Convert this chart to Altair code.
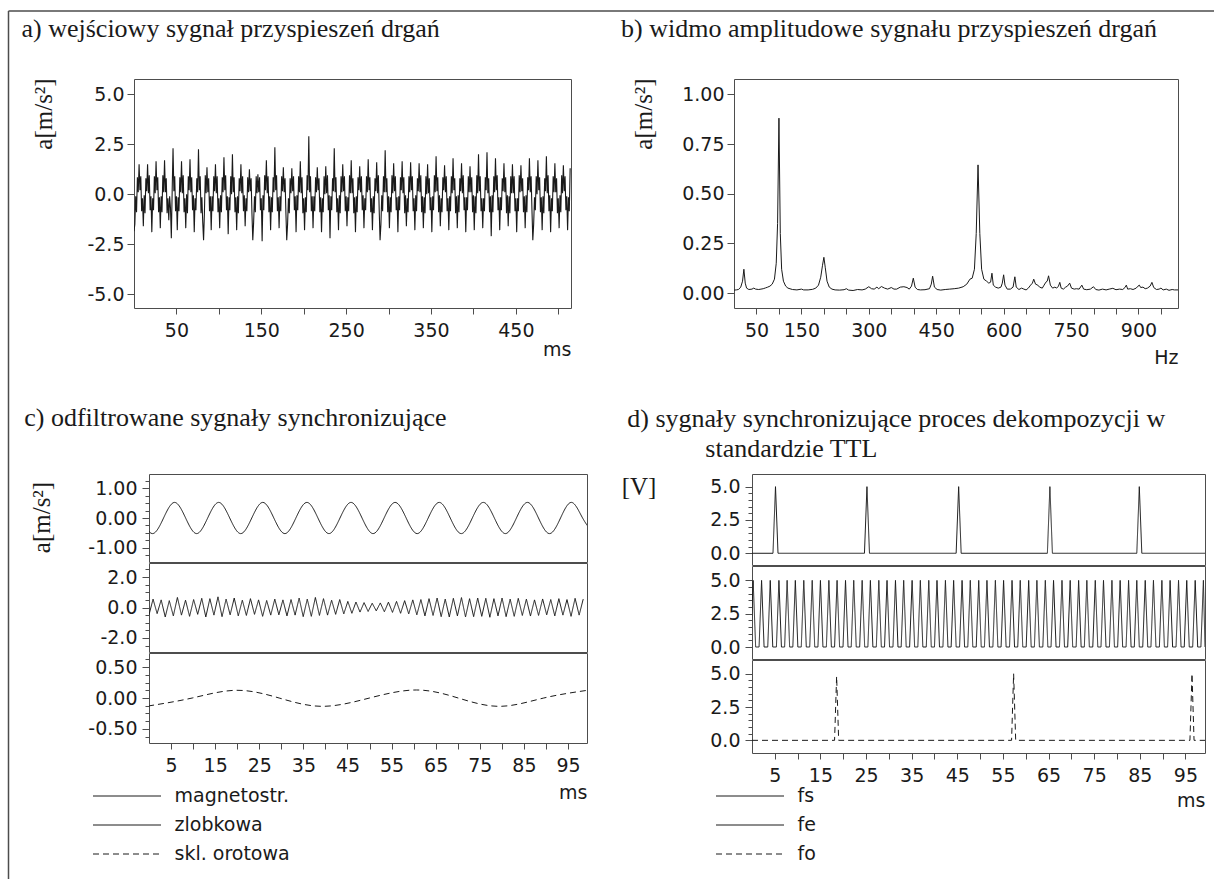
import altair as alt
import pandas as pd

INK = "#1a1a1a"
FRAME = "#4d4d4d"
SERIF = "Liberation Serif"
SANS = "DejaVu Sans"

# ---------------- data ----------------
# a) input vibration acceleration signal, one value per 1 ms (one row = one 10 ms cycle)
a_step_ms = 1
a_values = [
    -1.85, -1.5, -0.1, -0.9, 0.85, 0.1, 1.5, 0.2, 0.9, -0.85,
    -0.2, -1.6, -0.05, -0.95, 0.8, 0.15, 1.5, 0.05, 0.95, -0.8,
    -0.1, -1.9, -0.2, -0.8, 0.9, 0.05, 1.65, 0.2, 0.85, -0.9,
    -0.15, -1.7, -0.1, -0.9, 0.95, 0.1, 1.7, 0.1, 0.8, -0.95,
    -0.2, -1.3, -0.1, -0.7, -2.2, 0.2, 2.3, 0.15, 0.9, -0.85,
    -0.1, -1.8, -0.15, -0.85, 0.85, 0.1, 1.65, 0.05, 0.95, -0.9,
    -0.2, -1.7, 0.0, -0.95, 0.9, 0.2, 1.75, 0.1, 0.85, -0.8,
    -0.05, -1.9, -0.2, -0.8, 0.8, 0.1, 2.25, 0.2, 0.9, -0.95,
    -0.15, -1.4, -2.3, -0.9, 0.95, 0.05, 1.35, 0.1, 0.8, -0.85,
    -0.1, -1.8, -0.1, -0.85, 0.9, 0.15, 1.5, 0.05, 0.9, -0.9,
    -0.2, -1.7, -0.05, -0.9, 0.85, 0.1, 1.85, 0.2, 0.95, -0.8,
    -0.1, -2.0, -0.15, -0.8, 0.9, 0.0, 2.0, 0.1, 0.85, -0.9,
    -0.15, -1.8, -0.1, -0.95, 0.8, 0.15, 1.5, 0.05, 0.9, -0.85,
    -0.05, -1.6, -0.2, -0.85, 0.85, 0.1, 1.25, 0.15, 0.8, -0.95,
    -2.3, -1.4, -0.1, -0.9, 0.9, 0.05, 1.0, 0.1, 0.85, -0.8,
    -0.2, -2.35, -0.05, -0.8, 0.95, 0.2, 1.7, 0.05, 0.9, -0.9,
    -0.1, -1.8, -0.15, -0.9, 0.85, 0.1, 2.35, 0.2, 0.95, -0.85,
    -0.15, -1.7, -0.1, -0.85, 0.9, 0.15, 1.35, 0.1, 0.8, -0.9,
    -2.3, -1.5, -0.2, -0.95, 0.8, 0.05, 1.3, 0.15, 0.9, -0.8,
    -0.1, -1.9, -0.05, -0.8, 0.9, 0.1, 1.65, 0.05, 0.85, -0.95,
    -0.2, -1.8, -0.15, -0.9, 0.95, 0.2, 2.9, 0.1, 0.9, -0.85,
    -0.1, -1.7, -0.1, -0.85, 0.85, 0.1, 1.35, 0.2, 0.8, -0.9,
    -0.15, -1.9, -0.2, -0.9, 0.9, 0.0, 1.4, 0.05, 0.95, -0.8,
    -0.05, -2.2, -0.1, -0.8, 0.8, 0.15, 2.3, 0.1, 0.85, -0.9,
    -0.2, -1.8, -0.05, -0.95, 0.9, 0.1, 1.5, 0.15, 0.9, -0.85,
    -0.1, -1.6, -0.15, -0.85, 0.95, 0.05, 1.7, 0.05, 0.8, -0.95,
    -0.15, -1.9, -0.1, -0.9, 0.85, 0.2, 1.4, 0.1, 0.9, -0.8,
    -0.05, -1.7, -0.2, -0.8, 0.9, 0.1, 1.75, 0.2, 0.85, -0.9,
    -0.2, -1.8, -0.1, -0.95, 0.8, 0.15, 1.6, 0.05, 0.95, -0.85,
    -2.3, -1.5, -0.05, -0.85, 0.9, 0.1, 2.2, 0.1, 0.8, -0.9,
    -0.1, -1.7, -0.15, -0.9, 0.95, 0.05, 1.55, 0.15, 0.9, -0.8,
    -0.15, -1.9, -0.1, -0.8, 0.85, 0.2, 1.65, 0.05, 0.85, -0.95,
    -0.05, -1.6, -0.2, -0.9, 0.9, 0.1, 1.6, 0.2, 0.9, -0.85,
    -0.2, -1.8, -0.05, -0.85, 0.8, 0.15, 1.55, 0.1, 0.95, -0.9,
    -0.1, -1.7, -0.15, -0.95, 0.9, 0.0, 1.5, 0.05, 0.8, -0.8,
    -0.15, -1.9, -0.1, -0.8, 0.95, 0.1, 1.9, 0.15, 0.85, -0.9,
    -0.05, -1.6, -0.2, -0.9, 0.85, 0.2, 1.45, 0.1, 0.9, -0.85,
    -0.2, -1.8, -0.1, -0.85, 0.9, 0.05, 1.8, 0.2, 0.8, -0.95,
    -0.1, -1.7, -0.05, -0.9, 0.8, 0.15, 1.55, 0.05, 0.95, -0.8,
    -0.15, -1.9, -0.15, -0.8, 0.9, 0.1, 1.4, 0.1, 0.85, -0.9,
    -0.05, -1.8, -0.1, -0.95, 0.95, 0.05, 2.0, 0.15, 0.9, -0.85,
    -0.2, -1.7, -0.2, -0.85, 0.85, 0.2, 2.1, 0.05, 0.8, -0.9,
    -0.1, -2.1, -0.05, -0.9, 0.9, 0.1, 1.8, 0.2, 0.95, -0.8,
    -0.15, -1.8, -0.15, -0.8, 0.8, 0.15, 1.55, 0.1, 0.85, -0.95,
    -0.05, -1.6, -0.1, -0.95, 0.9, 0.05, 1.5, 0.05, 0.9, -0.85,
    -0.2, -1.9, -0.2, -0.85, 0.95, 0.1, 1.45, 0.15, 0.8, -0.9,
    -0.1, -1.7, -0.05, -0.9, 0.85, 0.2, 1.8, 0.1, 0.9, -0.8,
    -2.3, -1.5, -0.15, -0.8, 0.9, 0.0, 1.7, 0.2, 0.85, -0.9,
    -0.15, -1.8, -0.1, -0.95, 0.8, 0.15, 1.9, 0.05, 0.95, -0.85,
    -0.05, -1.9, -0.2, -0.85, 0.9, 0.1, 1.55, 0.1, 0.8, -0.95,
    -0.2, -1.7, -0.05, -0.9, 0.95, 0.05, 1.45, 0.15, 0.9, -0.8,
    -0.1, -1.8, -0.15, -0.85, 1.3,
]

# b) amplitude spectrum
spec_hz = [
    0, 5, 10, 15, 19, 22, 25, 28, 33, 40, 44, 48, 55, 60, 65, 70, 75, 80, 85, 90,
    94, 97, 100, 103, 106, 110, 115, 120, 130, 140, 150, 155, 165, 175, 182, 188, 193, 197, 200, 203,
    207, 212, 218, 225, 235, 245, 250, 255, 265, 275, 285, 292, 300, 306, 312, 318, 322, 328, 335, 342,
    350, 356, 362, 370, 378, 385, 390, 395, 399, 403, 408, 415, 425, 435, 439, 442, 446, 452, 460, 470,
    480, 490, 500, 510, 518, 525, 530, 535, 539, 543, 547, 551, 556, 562, 567, 571, 574, 577, 582, 588,
    594, 597, 600, 603, 608, 615, 621, 625, 628, 634, 640, 645, 650, 655, 660, 664, 667, 671, 676, 680,
    686, 690, 694, 697, 700, 704, 709, 714, 718, 722, 725, 728, 733, 738, 742, 747, 751, 757, 762, 768,
    774, 778, 785, 793, 800, 805, 812, 820, 828, 835, 843, 850, 858, 865, 870, 873, 876, 882, 888, 895,
    899, 902, 905, 910, 915, 920, 926, 930, 934, 940, 946, 950, 955, 962, 968, 975, 980, 988,
]
spec_amp = [
    0.015, 0.016, 0.018, 0.03, 0.06, 0.12, 0.05, 0.025, 0.018, 0.02, 0.025, 0.02, 0.018, 0.02, 0.022, 0.026, 0.03, 0.035, 0.045, 0.07,
    0.15, 0.35, 0.88, 0.3, 0.12, 0.06, 0.035, 0.025, 0.018, 0.016, 0.02, 0.016, 0.016, 0.019, 0.025, 0.04, 0.08, 0.14, 0.18, 0.13,
    0.06, 0.03, 0.02, 0.016, 0.015, 0.017, 0.022, 0.015, 0.013, 0.018, 0.016, 0.02, 0.032, 0.022, 0.02, 0.03, 0.022, 0.033, 0.025, 0.02,
    0.028, 0.02, 0.02, 0.03, 0.032, 0.028, 0.02, 0.035, 0.075, 0.03, 0.018, 0.016, 0.017, 0.022, 0.045, 0.085, 0.03, 0.018, 0.015, 0.018,
    0.02, 0.022, 0.025, 0.032, 0.045, 0.07, 0.075, 0.12, 0.3, 0.645, 0.3, 0.12, 0.07, 0.06, 0.05, 0.055, 0.1, 0.04, 0.03, 0.025,
    0.03, 0.05, 0.092, 0.04, 0.02, 0.02, 0.03, 0.082, 0.03, 0.018, 0.025, 0.02, 0.016, 0.025, 0.04, 0.05, 0.07, 0.045, 0.04, 0.03,
    0.025, 0.04, 0.055, 0.06, 0.087, 0.04, 0.025, 0.03, 0.025, 0.035, 0.054, 0.025, 0.02, 0.03, 0.035, 0.05, 0.025, 0.02, 0.022, 0.02,
    0.04, 0.02, 0.017, 0.02, 0.032, 0.018, 0.015, 0.02, 0.016, 0.02, 0.024, 0.017, 0.02, 0.018, 0.028, 0.04, 0.02, 0.022, 0.018, 0.025,
    0.035, 0.04, 0.028, 0.03, 0.022, 0.025, 0.035, 0.054, 0.028, 0.018, 0.02, 0.025, 0.016, 0.02, 0.014, 0.018, 0.016, 0.016,
]

# c) filtered synchronising signals
mag_start_ms, mag_step_ms = -1.7, 2.5          # quarter-period sample points
mag_v = [
    0.0, -0.52, 0.0, 0.52, 0.0, -0.52, 0.0, 0.52, 0.0, -0.52, 0.0, 0.52, 0.0, -0.52,
    0.0, 0.52, 0.0, -0.52, 0.0, 0.52, 0.0, -0.52, 0.0, 0.52, 0.0, -0.52, 0.0, 0.52,
    0.0, -0.52, 0.0, 0.52, 0.0, -0.52, 0.0, 0.52, 0.0, -0.52, 0.0, 0.52, 0.0, -0.52,
]
zl_step_ms = 0.92                               # half-period extrema of slot harmonic
zl_v = [
    -0.48, 0.55, -0.40, 0.50, -0.62, 0.45, -0.55, 0.66, -0.50, 0.48,
    -0.58, 0.52, -0.45, 0.60, -0.62, 0.58, -0.50, 0.70, -0.60, 0.55,
    -0.48, 0.62, -0.55, 0.48, -0.52, 0.58, -0.45, 0.50, -0.58, 0.46,
    -0.50, 0.55, -0.48, 0.50, -0.55, 0.52, -0.50, 0.62, -0.60, 0.55,
    -0.58, 0.66, -0.52, 0.58, -0.50, 0.48, -0.45, 0.52, -0.42, 0.40,
    -0.38, 0.36, -0.30, 0.32, -0.26, 0.28, -0.22, 0.30, -0.28, 0.35,
    -0.32, 0.40, -0.38, 0.45, -0.42, 0.50, -0.48, 0.52, -0.55, 0.58,
    -0.52, 0.62, -0.60, 0.55, -0.62, 0.60, -0.55, 0.65, -0.62, 0.58,
    -0.60, 0.62, -0.58, 0.60, -0.64, 0.58, -0.55, 0.62, -0.60, 0.55,
    -0.58, 0.60, -0.52, 0.55, -0.56, 0.50, -0.52, 0.56, -0.48, 0.52,
    -0.55, 0.58, -0.50, 0.52, -0.58, 0.60, -0.50, 0.55,
]
orot_t = [-0.2, 9.8, 19.8, 29.5, 39.3, 50.0, 60.6, 70.1, 79.6, 89.5, 99.4]
orot_v = [-0.13, 0.0, 0.125, 0.0, -0.135, 0.0, 0.13, 0.0, -0.135, 0.0, 0.125]

# d) TTL synchronising pulses (peak times in ms, levels in V)
fs_peaks = [5.15, 25.2, 45.3, 65.3, 84.9]
fs_levels = [5.0, 5.0, 5.0, 5.0, 5.0]
fe_peaks = [
    0.25, 2.1, 4.0, 5.9, 7.7, 9.5, 11.35, 13.2, 15.0, 16.85, 18.65, 20.5, 22.3, 24.15,
    25.95, 27.8, 29.6, 31.45, 33.25, 35.1, 36.9, 38.75, 40.55, 42.4, 44.2, 46.05, 47.85,
    49.7, 51.5, 53.35, 55.15, 57.0, 58.8, 60.65, 62.45, 64.3, 66.1, 67.95, 69.75, 71.6,
    73.4, 75.25, 77.05, 78.9, 80.7, 82.55, 84.35, 86.2, 88.0, 89.85, 91.65, 93.5, 95.3,
    97.15, 98.95,
]
fe_level = 5.0
fo_peaks = [18.55, 57.35, 96.45]
fo_levels = [4.8, 5.0, 5.0]
pulse_half_ms = {"fs": 0.55, "fe": 0.55, "fo": 0.45}

T_END = 99.3
# legend is filled column by column: panel c entries first, then panel d entries
SERIES = ["magnetostr.", "zlobkowa", "skl. orotowa", "fs", "fe", "fo"]
DASHES = [[1, 0], [1, 0], [6, 4], [1, 0], [1, 0], [6, 4]]

# ---------------- tables ----------------
df_a = pd.DataFrame({"t": [i * a_step_ms for i in range(len(a_values))], "v": a_values})
df_b = pd.DataFrame({"t": spec_hz, "v": spec_amp})
df_mag = pd.DataFrame({"t": [mag_start_ms + i * mag_step_ms for i in range(len(mag_v))],
                       "v": mag_v, "series": "magnetostr."})
zl_t = [i * zl_step_ms for i in range(len(zl_v))]
df_zl = pd.DataFrame({"t": zl_t, "v": zl_v, "series": "zlobkowa"})
df_or = pd.DataFrame({"t": orot_t, "v": orot_v, "series": "skl. orotowa"})


def pulses(peaks, levels, half, name):
    t, v = [], []
    if peaks[0] - half > 0:
        t.append(0.0)
        v.append(0.0)
    for p, h in zip(peaks, levels):
        t += [p - half, p, p + half]
        v += [0.0, h, 0.0]
    t.append(T_END)
    v.append(0.0)
    return pd.DataFrame({"t": t, "v": v, "series": name})


df_fs = pulses(fs_peaks, fs_levels, pulse_half_ms["fs"], "fs")
df_fe = pulses(fe_peaks, [fe_level] * len(fe_peaks), pulse_half_ms["fe"], "fe")
df_fo = pulses(fo_peaks, fo_levels, pulse_half_ms["fo"], "fo")

# ---------------- guides ----------------
LEG = alt.Legend(orient="none", legendX=-41.5, legendY=702.5, columns=2, columnPadding=425,
                 rowPadding=0, symbolType="stroke", symbolSize=4624, symbolStrokeWidth=1,
                 symbolStrokeColor=INK, clipHeight=29, labelFont=SANS, labelFontSize=19,
                 labelColor=INK, labelOffset=13, labelBaseline="middle", title=None, padding=0)
DASH = alt.Scale(domain=SERIES, range=DASHES)

TICK_X = [5, 10, 15, 20, 25, 30, 35, 40, 45, 50, 55, 60, 65, 70, 75, 80, 85, 90, 95]


def x_ms_axis(width, title_y):
    return alt.Axis(values=TICK_X, labelExpr="datum.value % 10 == 5 ? datum.label : ''",
                    tickSize=6, labelPadding=7, labelOverlap=False, labelFlush=False,
                    title="ms", titleFont=SANS, titleFontSize=19, titleFontWeight="normal",
                    titleX=width, titleY=title_y, titleAlign="right", titleBaseline="alphabetic")


def y_minor_axis(ticks, step, fmt, **kw):
    major = f"abs(datum.value / {step} - round(datum.value / {step})) < 0.000001"
    return alt.Axis(values=ticks, format=fmt, labelExpr=f"{major} ? datum.label : ''",
                    tickSize={"condition": {"test": major, "value": 7}, "value": 4},
                    labelOverlap=False, labelPadding=5, **kw)


def sub(df, width, height, ydom, yaxis, xaxis, interp="linear"):
    return alt.Chart(df).mark_line(strokeWidth=1, color=INK, clip=True, interpolate=interp).encode(
        x=alt.X("t:Q", scale=alt.Scale(domain=[0, T_END], nice=False, zero=False), axis=xaxis),
        y=alt.Y("v:Q", scale=alt.Scale(domain=ydom, nice=False, zero=False), axis=yaxis),
        strokeDash=alt.StrokeDash("series:N", scale=DASH, legend=LEG),
    ).properties(width=width, height=height)


# ---------------- panel a ----------------
a = alt.Chart(df_a).mark_line(strokeWidth=1.1, color=INK, clip=True).encode(
    x=alt.X("t:Q", scale=alt.Scale(domain=[0, 515], nice=False, zero=False),
            axis=alt.Axis(values=list(range(50, 501, 50)),
                          labelExpr="datum.value % 100 == 50 ? datum.label : ''",
                          tickSize=6, labelPadding=7, labelOverlap=False, labelFlush=False,
                          title="ms", titleFont=SANS, titleFontSize=19, titleFontWeight="normal",
                          titleX=437, titleY=47, titleAlign="right", titleBaseline="alphabetic")),
    y=alt.Y("v:Q", scale=alt.Scale(domain=[-5.7, 5.77], nice=False, zero=False),
            axis=alt.Axis(values=[-5, -2.5, 0, 2.5, 5], format=".1f", tickSize=7, labelPadding=3,
                          title="a[m/s²]", titleX=-90.5, titleY=34.5, titleAngle=270,
                          titleAlign="center", titleBaseline="middle")),
).properties(width=437, height=229,
             title=alt.TitleParams("a) wejściowy sygnał przyspieszeń drgań", anchor="start",
                                   frame="group", dx=-112.5, offset=15, baseline="alphabetic"))

# ---------------- panel b ----------------
b = alt.Chart(df_b).mark_line(strokeWidth=1, color=INK, clip=True).encode(
    x=alt.X("t:Q", scale=alt.Scale(domain=[0, 988], nice=False, zero=False),
            axis=alt.Axis(values=list(range(50, 951, 50)),
                          labelExpr="(datum.value == 50 || datum.value % 150 == 0) ? datum.label : ''",
                          tickSize=6, labelPadding=7, labelOverlap=False, labelFlush=False,
                          title="Hz", titleFont=SANS, titleFontSize=19, titleFontWeight="normal",
                          titleX=444, titleY=55, titleAlign="right", titleBaseline="alphabetic")),
    y=alt.Y("v:Q", scale=alt.Scale(domain=[-0.075, 1.077], nice=False, zero=False),
            axis=alt.Axis(values=[0, 0.25, 0.5, 0.75, 1.0], format=".2f", tickSize=7, labelPadding=3,
                          title="a[m/s²]", titleX=-90.5, titleY=34.5, titleAngle=270,
                          titleAlign="center", titleBaseline="middle")),
).properties(width=444, height=229,
             title=alt.TitleParams("b) widmo amplitudowe sygnału przyspieszeń drgań", anchor="start",
                                   frame="group", dx=-113, offset=15, baseline="alphabetic"))

# ---------------- panel c ----------------
C1_T = [-1.25, -1.0, -0.75, -0.5, -0.25, 0.0, 0.25, 0.5, 0.75, 1.0, 1.25]
C2_T = [-2.5, -2.0, -1.5, -1.0, -0.5, 0.0, 0.5, 1.0, 1.5, 2.0, 2.5]
C3_T = [-0.625, -0.5, -0.375, -0.25, -0.125, 0.0, 0.125, 0.25, 0.375, 0.5, 0.625]
D_T = [0.0, 0.5, 1.0, 1.5, 2.0, 2.5, 3.0, 3.5, 4.0, 4.5, 5.0]

c1 = sub(df_mag, 438, 88, [-1.467, 1.467],
         y_minor_axis(C1_T, 1, ".2f", title="a[m/s²]", titleX=-107.5, titleY=43, titleAngle=270,
                      titleAlign="center", titleBaseline="middle"), None, "natural")
c2 = sub(df_zl, 438, 89, [-2.92, 2.92], y_minor_axis(C2_T, 2, ".1f", title=None), None)
c3 = sub(df_or, 438, 90, [-0.73, 0.73], y_minor_axis(C3_T, 0.5, ".2f", title=None),
         x_ms_axis(438, 55), "natural")
c = alt.vconcat(c1, c2, c3, spacing=1, bounds="flush",
                title=alt.TitleParams("c) odfiltrowane sygnały synchronizujące", anchor="start",
                                      frame="group", dx=-124.8, offset=19, baseline="alphabetic"))

# ---------------- panel d ----------------
d1 = sub(df_fs, 453, 91, [-0.88, 5.95],
         y_minor_axis(D_T, 2.5, ".1f", title="[V]", titleX=-113.5, titleY=12, titleAngle=0,
                      titleAlign="center", titleBaseline="middle"), None)
d2 = sub(df_fe, 453, 93, [-0.9, 6.08], y_minor_axis(D_T, 2.5, ".1f", title=None), None)
d3 = sub(df_fo, 453, 93, [-0.95, 6.03], y_minor_axis(D_T, 2.5, ".1f", title=None),
         x_ms_axis(453, 53))
d = alt.vconcat(d1, d2, d3, spacing=1, bounds="flush",
                title=alt.TitleParams("d) sygnały synchronizujące proces dekompozycji w",
                                      subtitle="\u200b" + "\u00a0" * 12 + "standardzie TTL",
                                      subtitleFont=SERIF, subtitleFontSize=26, subtitleColor=INK,
                                      subtitlePadding=4, anchor="start", frame="group",
                                      dx=-124.7, dy=9, offset=0, baseline="alphabetic"))

# ---------------- outer frame (left and top edge of the figure box) ----------------
frame_df = pd.DataFrame({"k": [0]})
edge_v = alt.Chart(frame_df).mark_rule(color=FRAME, strokeWidth=1.5).encode(
    x=alt.value(-125.5), y=alt.value(-463), y2=alt.value(405))
edge_h = alt.Chart(frame_df).mark_rule(color=FRAME, strokeWidth=1.5).encode(
    x=alt.value(-125.5), x2=alt.value(1080), y=alt.value(-463))
spacer = alt.layer(edge_v, edge_h).properties(width=15, height=279,
                                               view=alt.ViewBackground(stroke="transparent"))

# flush layout: nested concat groups count as zero-size, so spacing is origin-to-origin
row1 = alt.hconcat(a, b, spacing=163, bounds="flush")
cd = alt.hconcat(c, d, spacing=603, bounds="flush")
row2 = alt.hconcat(spacer, cd, spacing=0, bounds="flush")

chart = alt.vconcat(row1, row2, spacing=395, bounds="flush").properties(
    padding={"left": 7, "top": 9, "right": 0, "bottom": 0})

chart = chart.configure(
    background="white",
    locale={"number": {"decimal": ".", "thousands": ",", "grouping": [3],
                       "currency": ["", ""], "minus": "-"}},
).configure_view(stroke=FRAME, strokeWidth=1).configure_axis(
    labelFont=SANS, labelFontSize=19, labelColor=INK, tickColor=FRAME, tickWidth=1,
    domain=False, grid=False, titleFont=SERIF, titleFontSize=25, titleFontWeight="normal",
    titleColor=INK,
).configure_title(font=SERIF, fontSize=26, fontWeight="normal", color=INK, anchor="start",
                  subtitleFont=SERIF, subtitleFontSize=26, subtitleColor=INK)

chart.save("out.html", embed_options={"renderer": "svg", "actions": False})
